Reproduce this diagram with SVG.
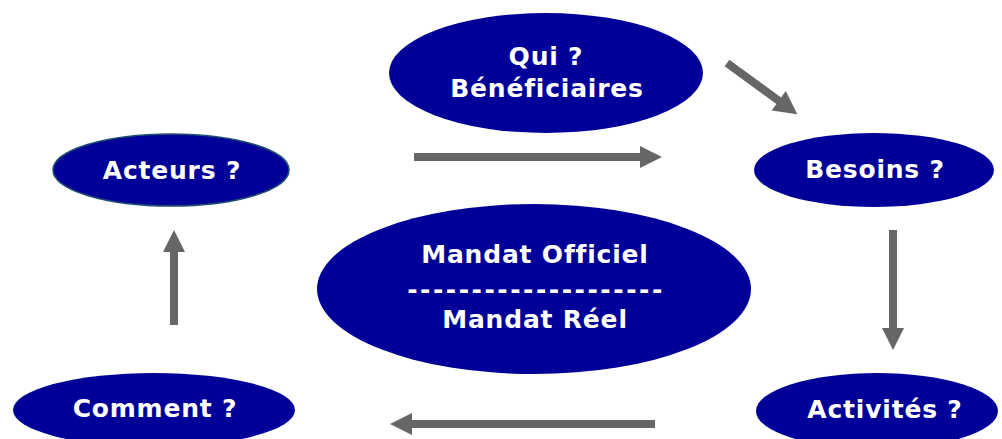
<svg xmlns="http://www.w3.org/2000/svg" width="1002" height="439" viewBox="0 0 1002 439">
<style>
.node{fill:#000099;}
.lbl{fill:#ffffff;font-family:"DejaVu Sans",Verdana,sans-serif;font-weight:bold;font-size:25px;letter-spacing:0.8px;text-anchor:middle;}
.dash{letter-spacing:2.5px;}
.arr{fill:#666666;}
</style>
<rect width="1002" height="439" fill="#ffffff"/>
<g id="connectors">
<polygon class="arr" points="414,153 640,153 640,146 662,157 640,168 640,161 414,161"/>
<g transform="translate(727,63) rotate(36.1)"><polygon class="arr" points="0,-4 64,-4 64,-12 87,0 64,12 64,4 0,4"/></g>
<polygon class="arr" points="889,230 897,230 897,328 904,328 893,350 882,328 889,328"/>
<polygon class="arr" points="655,420 412,420 412,413 390,424 412,435 412,428 655,428"/>
<polygon class="arr" points="170,325 178,325 178,252 185,252 174,230 163,252 170,252"/>
</g>
<g id="qui"><ellipse class="node" cx="546" cy="73" rx="157" ry="60"/><text class="lbl" x="546" y="65">Qui ?</text><text class="lbl" x="547" y="97">Bénéficiaires</text></g>
<g id="acteurs"><ellipse class="node" cx="171" cy="170" rx="118" ry="36" stroke="#1f4f6f" stroke-width="1.5"/><text class="lbl" x="172" y="179">Acteurs ?</text></g>
<g id="besoins"><ellipse class="node" cx="874" cy="170" rx="120" ry="37"/><text class="lbl" x="875" y="178">Besoins ?</text></g>
<g id="mandat"><ellipse class="node" cx="534" cy="289" rx="217" ry="85"/><text class="lbl" x="535" y="263">Mandat Officiel</text><text class="lbl dash" x="536" y="298">--------------------</text><text class="lbl" x="535" y="328">Mandat Réel</text></g>
<g id="comment"><ellipse class="node" cx="154" cy="410" rx="141" ry="37"/><text class="lbl" x="155" y="417">Comment ?</text></g>
<g id="activites"><ellipse class="node" cx="877" cy="411" rx="121" ry="38"/><text class="lbl" x="885" y="418">Activités ?</text></g>
</svg>
